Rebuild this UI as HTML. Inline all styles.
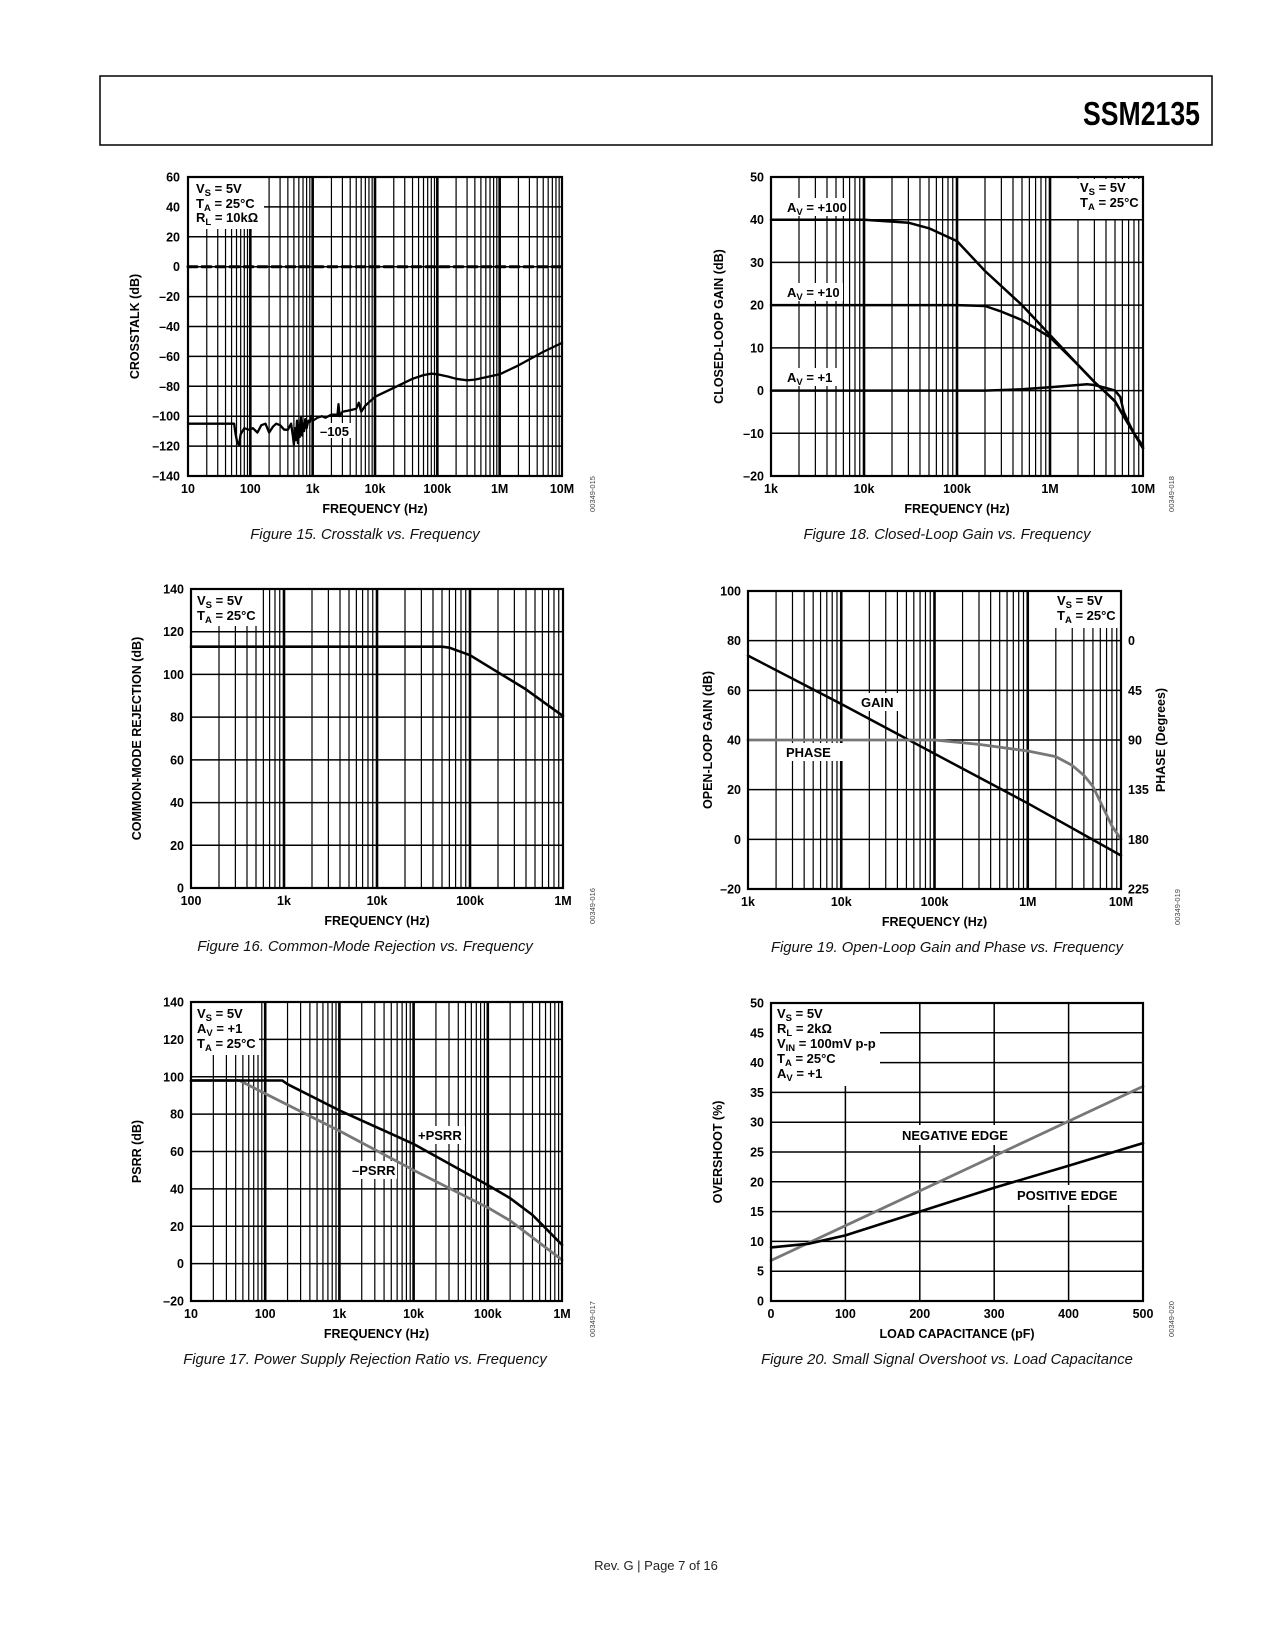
<!DOCTYPE html>
<html><head><meta charset="utf-8">
<style>
html,body{margin:0;padding:0;background:#fff;}
svg{display:block;}
text{font-family:"Liberation Sans",Arial,sans-serif;}
.tk{font-size:12.5px;font-weight:bold;fill:#000;}
.ti{font-size:12.5px;font-weight:bold;fill:#000;}
.lb{font-size:13px;font-weight:bold;fill:#000;}
.cap{font-size:14.8px;font-style:italic;fill:#111;}
.code{font-size:7.5px;fill:#444;}
</style></head>
<body>
<svg id="page" xmlns="http://www.w3.org/2000/svg" width="1275" height="1650" viewBox="0 0 1275 1650">
<rect x="0" y="0" width="1275" height="1650" fill="#fff"/>
<rect x="100" y="76" width="1112" height="69" fill="none" stroke="#000" stroke-width="1.5"/>
<text x="1083" y="125" textLength="117" lengthAdjust="spacingAndGlyphs" style="font-family:'Liberation Sans Narrow','Liberation Sans',sans-serif;font-size:33px;font-weight:bold;">SSM2135</text>
<text x="656" y="1570" text-anchor="middle" style="font-size:13px;fill:#222;">Rev. G | Page 7 of 16</text>
</svg>
<script>
// ---------- DATA ----------
// Fig 15 crosstalk
const xtFreq=[10,55,58,62,66,70,80,95,110,130,150,175,200,230,260,300,350,400,450,480,500,520,540,560,580,600,620,650,680,700,730,760,800,850,900,950,1000,1100,1200,1400,1600,2000,2500,2600,2700,3000,4000,5000,5500,6000,7000,10000,20000,40000,60000,80000,100000,150000,200000,300000,400000,600000,1000000,2000000,5000000,10000000];
const xtVals=[-105,-105,-112,-118,-119,-112,-108,-109,-108,-111,-106,-105,-111,-107,-105,-106,-109,-109,-105,-113,-119,-108,-116,-103,-118,-106,-114,-101,-113,-105,-110,-102,-108,-103,-104,-100,-103,-102,-101,-100,-101,-99,-99,-92,-100,-97,-96,-95,-91,-97,-93,-87,-81,-75,-72.5,-71.5,-72,-73.5,-75,-76,-75.5,-74,-72,-66,-57,-51];
// Fig 18 closed-loop gain
const av100Freq=[1e3,1e4,3e4,5e4,1e5,2e5,5e5,1e6,2e6,3e6,4e6,5e6,6e6,8e6,1e7];
const av100Vals=[40,40,39.3,38,35,28,20,13,6,2,-0.5,-2.5,-5.5,-10,-13.5];
const av10Freq=[1e3,1e5,2e5,3e5,5e5,1e6,2e6,3e6,4e6,5e6,6e6,8e6,1e7];
const av10Vals=[20,20,19.8,18.5,16.5,12.5,6,2,-0.5,-2.5,-5.5,-10,-13.5];
const av1Freq=[1e3,2e5,5e5,1e6,2e6,2.5e6,3e6,4e6,5e6,5.7e6,6.2e6,7e6,8e6,1e7];
const av1Vals=[0,0,0.3,0.8,1.3,1.5,1.3,0.6,0,-1.5,-5,-7.5,-10,-13];
// Fig 16 CMRR
const cmFreq=[100,5e4,6e4,1e5,2e5,4e5,1e6];
const cmVals=[113,113,112.5,109,101,93,80.5];
// Fig 19 open-loop gain & phase
const olFreq=[1e3,1e4,1e5,1e6,1e7];
const olGain=[74,54.5,34.5,14.5,-6.5];
const phFreq=[1e3,1e5,3e5,1e6,2e6,3e6,4e6,5e6,6e6,8e6,1e7];
const phVals=[90,90,94,100,105,113,122,132,146,168,180];
// Fig 17 PSRR
const ppFreq=[10,170,200,1e3,1e4,1e5,2e5,4e5,6e5,1e6];
const ppVals=[98,98,96,82,64,42,35,26,19,10];
const pmFreq=[10,45,100,1e3,1e4,1e5,2e5,1e6];
const pmVals=[98,98,91,71,50,30,23,2];
// Fig 20 overshoot
const capVals=[0,50,100,200,300,400,500];
const posEdge=[9,9.6,11,15,19,22.7,26.5];
const negCap=[0,500];
const negEdge=[6.8,36];
// tick labels
const xt1Labels=['10','100','1k','10k','100k','1M','10M'];
const y1Ticks=[60,40,20,0,-20,-40,-60,-80,-100,-120,-140];
const xt2Labels=['1k','10k','100k','1M','10M'];
const y2Ticks=[50,40,30,20,10,0,-10,-20];
const xt3Labels=['100','1k','10k','100k','1M'];
const y3Ticks=[140,120,100,80,60,40,20,0];
const y4Ticks=[100,80,60,40,20,0,-20];
const ph4Ticks=[0,45,90,135,180,225];
const xt5Labels=['10','100','1k','10k','100k','1M'];
const y5Ticks=[140,120,100,80,60,40,20,0,-20];
const x6Ticks=[0,100,200,300,400,500];
const y6Ticks=[50,45,40,35,30,25,20,15,10,5,0];

// ---------- HELPERS ----------
const NS='http://www.w3.org/2000/svg';
const svg=document.getElementById('page');
function mk(tag,attrs,parent){const e=document.createElementNS(NS,tag);for(const k in attrs)e.setAttribute(k,attrs[k]);(parent||svg).appendChild(e);return e;}
function logAxis(L,R,f0,f1){return f=>L+(Math.log10(f)-Math.log10(f0))/(Math.log10(f1)-Math.log10(f0))*(R-L);}
function linAxis(a,b,v0,v1){return v=>a+(v-v0)/(v1-v0)*(b-a);}
function fmt(v){return v<0?'\u2013'+(-v):String(v);}

function frame(g,b){
  const r=mk('rect',{x:b.L,y:b.T,width:b.R-b.L,height:b.B-b.T,fill:'none',stroke:'#000','stroke-width':2.2},g);
  
  
}
function logGrid(g,b,f0,f1,X){
  for(let d=f0; d<f1; d*=10){
    for(let k=1;k<=9;k++){
      const f=d*k; if(f<=f0) continue;
      const x=X(f);
      const l=mk('line',{x1:x,x2:x,y1:b.T,y2:b.B,stroke:'#000','stroke-width':k===1?2.6:1.2},g);
      
      
    }
  }
}
function hGrid(g,b,ticks,Y){
  ticks.forEach(v=>{
    const y=Y(v);
    const l=mk('line',{x1:b.L,x2:b.R,y1:y,y2:y,stroke:'#000','stroke-width':1.5},g);
    
    
  });
}
function yLabels(g,b,ticks,Y,x,anchor){
  ticks.forEach(v=>{
    const t=mk('text',{x:x,y:Y(v)+4.5,'text-anchor':anchor,class:'tk'},g);
    t.textContent=fmt(v);
    
    
  });
}
function xLogLabels(g,b,labels,f0,X){
  labels.forEach((s,i)=>{
    const t=mk('text',{x:X(f0*Math.pow(10,i)),y:b.B+17,'text-anchor':'middle',class:'tk'},g);
    t.textContent=s;
    
    
  });
}
function series(g,fx,vy,X,Y,color,w,name,dash){
  const pts=fx.map((f,i)=>X(f).toFixed(1)+','+Y(vy[i]).toFixed(1)).join(' ');
  const p=mk('polyline',{points:pts,fill:'none',stroke:color,'stroke-width':w,'stroke-linejoin':'round','stroke-linecap':'round'},g);
  if(dash)p.setAttribute('stroke-dasharray',dash);
  
  
}
function whiteBox(g,x,y,w,h){
  const r=mk('rect',{x:x,y:y,width:w,height:h,fill:'#fff'},g);
  
  
}
function label(g,x,y,main,sub,rest,name,anchor){
  const t=mk('text',{x:x,y:y,class:'lb','text-anchor':anchor||'start'},g);
  
  
  const a=mk('tspan',{},t); a.textContent=main;
  if(sub){const s=mk('tspan',{dy:3,'font-size':'9.5px'},t); s.textContent=sub;
    const r=mk('tspan',{dy:-3},t); r.textContent=rest;}
  return t;
}
function titles(g,b,ytx,ytext,xtext,cap,capx,code,codex){
  const t1=mk('text',{x:(b.L+b.R)/2,y:b.B+37,'text-anchor':'middle',class:'ti'},g);
  t1.textContent=xtext;
  
  
  const cy=(b.T+b.B)/2;
  const t2=mk('text',{x:ytx,y:cy,'text-anchor':'middle',class:'ti',transform:'rotate(-90 '+ytx+' '+cy+')'},g);
  t2.textContent=ytext;
  
  
  const t3=mk('text',{x:capx,y:b.B+63,'text-anchor':'middle',class:'cap'},g);
  t3.textContent=cap;
  
  
  const cyy=b.B+18;
  const t4=mk('text',{x:codex,y:cyy,'text-anchor':'middle',class:'code',transform:'rotate(-90 '+codex+' '+cyy+')'},g);
  t4.textContent=code;
  
  
}
function group(name){const g=mk('g',{});return g;}

// ---------- FIG 15 ----------
(function(){
  const b={L:188,T:177,R:562,B:476};
  const g=group('crosstalk-chart');
  const X=logAxis(b.L,b.R,10,1e7), Y=linAxis(b.T,b.B,60,-140);
  logGrid(g,b,10,1e7,X); hGrid(g,b,y1Ticks,Y);
  whiteBox(g,b.L+1,b.T+1,75,51);
  series(g,[10,1e7],[0,0],X,Y,'#000',3,'zero-reference-line','9,5');
  series(g,xtFreq,xtVals,X,Y,'#000',2.3,'crosstalk-curve');
  whiteBox(g,318,423,36,15);
  label(g,320,436,'\u2013105','','','annotation-105');
  frame(g,b);
  label(g,196,193,'V','S',' = 5V','vs-label');
  label(g,196,208,'T','A',' = 25\u00B0C','ta-label');
  label(g,196,222,'R','L',' = 10k\u03A9','rl-label');
  yLabels(g,b,y1Ticks,Y,b.L-8,'end');
  xLogLabels(g,b,xt1Labels,10,X);
  titles(g,b,139,'CROSSTALK (dB)','FREQUENCY (Hz)','Figure 15. Crosstalk vs. Frequency',365,'00349-015',595);
})();

// ---------- FIG 18 ----------
(function(){
  const b={L:771,T:177,R:1143,B:476};
  const g=group('closed-loop-gain-chart');
  const X=logAxis(b.L,b.R,1e3,1e7), Y=linAxis(b.T,b.B,50,-20);
  logGrid(g,b,1e3,1e7,X); hGrid(g,b,y2Ticks,Y);
  whiteBox(g,785,198,62,18); whiteBox(g,785,283,58,18); whiteBox(g,785,368,52,18);
  whiteBox(g,1074,179,67,40);
  series(g,av100Freq,av100Vals,X,Y,'#000',2.5,'av100-curve');
  series(g,av10Freq,av10Vals,X,Y,'#000',2.5,'av10-curve');
  series(g,av1Freq,av1Vals,X,Y,'#000',2.5,'av1-curve');
  frame(g,b);
  label(g,787,212,'A','V',' = +100','av100-label');
  label(g,787,297,'A','V',' = +10','av10-label');
  label(g,787,382,'A','V',' = +1','av1-label');
  label(g,1080,192,'V','S',' = 5V','vs-label');
  label(g,1080,207,'T','A',' = 25\u00B0C','ta-label');
  yLabels(g,b,y2Ticks,Y,b.L-7,'end');
  xLogLabels(g,b,xt2Labels,1e3,X);
  titles(g,b,723,'CLOSED-LOOP GAIN (dB)','FREQUENCY (Hz)','Figure 18. Closed-Loop Gain vs. Frequency',947,'00349-018',1174);
})();

// ---------- FIG 16 ----------
(function(){
  const b={L:191,T:589,R:563,B:888};
  const g=group('cmrr-chart');
  const X=logAxis(b.L,b.R,100,1e6), Y=linAxis(b.T,b.B,140,0);
  logGrid(g,b,100,1e6,X); hGrid(g,b,y3Ticks,Y);
  whiteBox(g,b.L+1,b.T+1,66,36);
  series(g,cmFreq,cmVals,X,Y,'#000',2.6,'cmrr-curve');
  frame(g,b);
  label(g,197,605,'V','S',' = 5V','vs-label');
  label(g,197,620,'T','A',' = 25\u00B0C','ta-label');
  yLabels(g,b,y3Ticks,Y,b.L-7,'end');
  xLogLabels(g,b,xt3Labels,100,X);
  titles(g,b,141,'COMMON-MODE REJECTION (dB)','FREQUENCY (Hz)','Figure 16. Common-Mode Rejection vs. Frequency',365,'00349-016',595);
})();

// ---------- FIG 19 ----------
(function(){
  const b={L:748,T:591,R:1121,B:889};
  const g=group('open-loop-gain-phase-chart');
  const X=logAxis(b.L,b.R,1e3,1e7), Y=linAxis(b.T,b.B,100,-20);
  const P=linAxis(Y(80),Y(-20),0,225);
  logGrid(g,b,1e3,1e7,X); hGrid(g,b,y4Ticks,Y);
  whiteBox(g,1050,592,70,36);
  whiteBox(g,855,693,46,18); whiteBox(g,782,743,66,18);
  series(g,olFreq,olGain,X,Y,'#000',2.5,'gain-curve');
  series(g,phFreq,phVals,X,P,'#777',2.8,'phase-curve');
  frame(g,b);
  label(g,1057,605,'V','S',' = 5V','vs-label');
  label(g,1057,620,'T','A',' = 25\u00B0C','ta-label');
  label(g,861,707,'GAIN','','','gain-label');
  label(g,786,757,'PHASE','','','phase-label');
  yLabels(g,b,y4Ticks,Y,b.L-7,'end');
  ph4Ticks.forEach(v=>{
    const t=mk('text',{x:b.R+7,y:P(v)+4.5,class:'tk'},g);
    t.textContent=String(v);
    
    
  });
  xLogLabels(g,b,xt2Labels,1e3,X);
  titles(g,b,712,'OPEN-LOOP GAIN (dB)','FREQUENCY (Hz)','Figure 19. Open-Loop Gain and Phase vs. Frequency',947,'00349-019',1180);
  const cy=(b.T+b.B)/2;
  const t=mk('text',{x:1165,y:cy,'text-anchor':'middle',class:'ti',transform:'rotate(-90 1165 '+cy+')'},g);
  t.textContent='PHASE (Degrees)';
  
  
})();

// ---------- FIG 17 ----------
(function(){
  const b={L:191,T:1002,R:562,B:1301};
  const g=group('psrr-chart');
  const X=logAxis(b.L,b.R,10,1e6), Y=linAxis(b.T,b.B,140,-20);
  logGrid(g,b,10,1e6,X); hGrid(g,b,y5Ticks,Y);
  whiteBox(g,b.L+1,b.T+1,67,52);
  whiteBox(g,415,1126,50,18); whiteBox(g,350,1161,47,18);
  series(g,pmFreq,pmVals,X,Y,'#777',2.8,'minus-psrr-curve');
  series(g,ppFreq,ppVals,X,Y,'#000',2.6,'plus-psrr-curve');
  frame(g,b);
  label(g,197,1018,'V','S',' = 5V','vs-label');
  label(g,197,1033,'A','V',' = +1','av-label');
  label(g,197,1048,'T','A',' = 25\u00B0C','ta-label');
  label(g,418,1140,'+PSRR','','','plus-psrr-label');
  label(g,352,1175,'\u2013PSRR','','','minus-psrr-label');
  yLabels(g,b,y5Ticks,Y,b.L-7,'end');
  xLogLabels(g,b,xt5Labels,10,X);
  titles(g,b,141,'PSRR (dB)','FREQUENCY (Hz)','Figure 17. Power Supply Rejection Ratio vs. Frequency',365,'00349-017',595);
})();

// ---------- FIG 20 ----------
(function(){
  const b={L:771,T:1003,R:1143,B:1301};
  const g=group('overshoot-chart');
  const X=linAxis(b.L,b.R,0,500), Y=linAxis(b.T,b.B,50,0);
  x6Ticks.forEach(v=>{
    const l=mk('line',{x1:X(v),x2:X(v),y1:b.T,y2:b.B,stroke:'#000','stroke-width':1.5},g);
    
    
  });
  hGrid(g,b,y6Ticks,Y);
  whiteBox(g,b.L+1,b.T+1,108,82);
  whiteBox(g,895,1125,112,20); whiteBox(g,1010,1185,112,20);
  series(g,negCap,negEdge,X,Y,'#777',2.8,'negative-edge-line');
  series(g,capVals,posEdge,X,Y,'#000',2.6,'positive-edge-line');
  frame(g,b);
  label(g,777,1018,'V','S',' = 5V','vs-label');
  label(g,777,1033,'R','L',' = 2k\u03A9','rl-label');
  label(g,777,1048,'V','IN',' = 100mV p-p','vin-label');
  label(g,777,1063,'T','A',' = 25\u00B0C','ta-label');
  label(g,777,1078,'A','V',' = +1','av-label');
  label(g,902,1140,'NEGATIVE EDGE','','','negative-edge-label');
  label(g,1017,1200,'POSITIVE EDGE','','','positive-edge-label');
  yLabels(g,b,y6Ticks,Y,b.L-7,'end');
  x6Ticks.forEach(v=>{
    const t=mk('text',{x:X(v),y:b.B+17,'text-anchor':'middle',class:'tk'},g);
    t.textContent=String(v);
    
    
  });
  titles(g,b,722,'OVERSHOOT (%)','LOAD CAPACITANCE (pF)','Figure 20. Small Signal Overshoot vs. Load Capacitance',947,'00349-020',1174);
})();
</script>
</body></html>
